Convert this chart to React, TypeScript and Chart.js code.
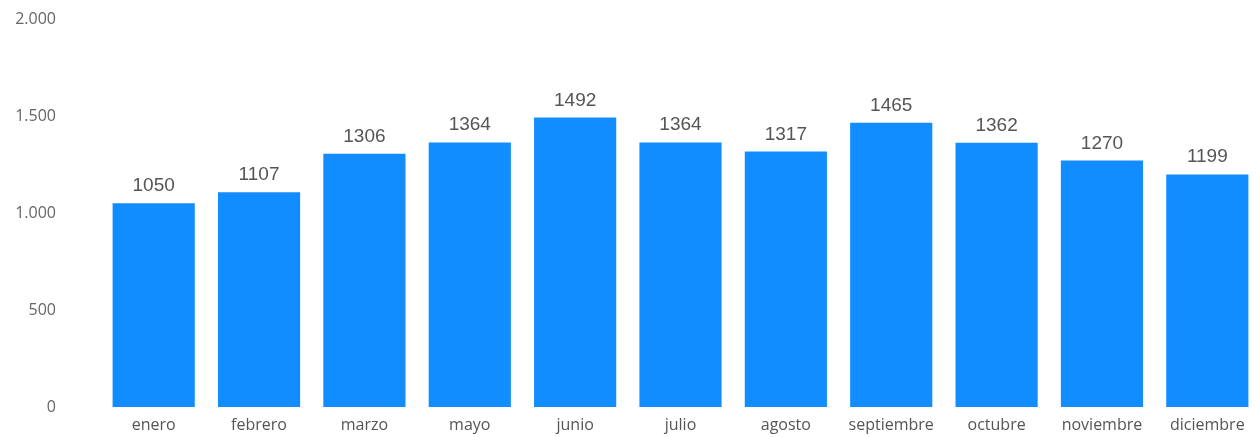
import React, { useEffect, useRef } from "react";
import { Chart, registerables } from "chart.js";

Chart.register(...registerables);

const months = ["enero", "febrero", "marzo", "mayo", "junio", "julio", "agosto", "septiembre", "octubre", "noviembre", "diciembre"];
const values = [1050, 1107, 1306, 1364, 1492, 1364, 1317, 1465, 1362, 1270, 1199];
const yTicks = [0, 500, 1000, 1500, 2000];
const yTickLabels = ["0", "500", "1.000", "1.500", "2.000"];

const valueLabels = {
  id: "valueLabels",
  afterDatasetsDraw(chart: any) {
    const ctx = chart.ctx;
    const meta = chart.getDatasetMeta(0);
    ctx.save();
    ctx.font = "19px 'Liberation Sans', Arial, sans-serif";
    ctx.fillStyle = "#555555";
    ctx.textAlign = "center";
    ctx.textBaseline = "alphabetic";
    meta.data.forEach((bar: any, i: number) => {
      ctx.fillText(String(values[i]), bar.x, bar.y - 12);
    });
    ctx.restore();
  },
};

export default function App() {
  const ref = useRef<HTMLCanvasElement | null>(null);
  useEffect(() => {
    document.body.style.margin = "0";
    const chart = new Chart(ref.current as HTMLCanvasElement, {
      type: "bar",
      data: {
        labels: months,
        datasets: [
          {
            data: values,
            backgroundColor: "#118DFF",
            categoryPercentage: 1,
            barPercentage: 0.78,
          },
        ],
      },
      options: {
        animation: false,
        responsive: false,
        layout: { padding: { top: 19, right: 0, left: 0, bottom: 0 } },
        plugins: { legend: { display: false }, tooltip: { enabled: false } },
        scales: {
          x: {
            grid: { display: false, drawTicks: false },
            border: { display: false },
            ticks: {
              color: "#555555",
              font: { family: "'Open Sans', sans-serif", size: 16 },
              padding: 9,
              maxRotation: 0,
              autoSkip: false,
            },
            afterFit: (s: any) => {
              s.height = 30;
              s.paddingLeft = 0;
              s.paddingRight = 0;
            },
          },
          y: {
            min: 0,
            max: 2000,
            grid: { display: false, drawTicks: false },
            border: { display: false },
            afterBuildTicks: (s: any) => {
              s.ticks = yTicks.map((v) => ({ value: v }));
            },
            ticks: {
              color: "#666666",
              font: { family: "'Open Sans', sans-serif", size: 16 },
              padding: 45,
              callback: (v: any) => yTickLabels[yTicks.indexOf(Number(v))] ?? String(v),
            },
            afterFit: (s: any) => {
              s.width = 101;
              s.paddingTop = 0;
              s.paddingBottom = 0;
            },
          },
        },
      },
      plugins: [valueLabels],
    });
    return () => chart.destroy();
  }, []);
  return (
    <div style={{ width: 1260, height: 437 }}>
      <canvas ref={ref} width={1260} height={437} />
    </div>
  );
}
